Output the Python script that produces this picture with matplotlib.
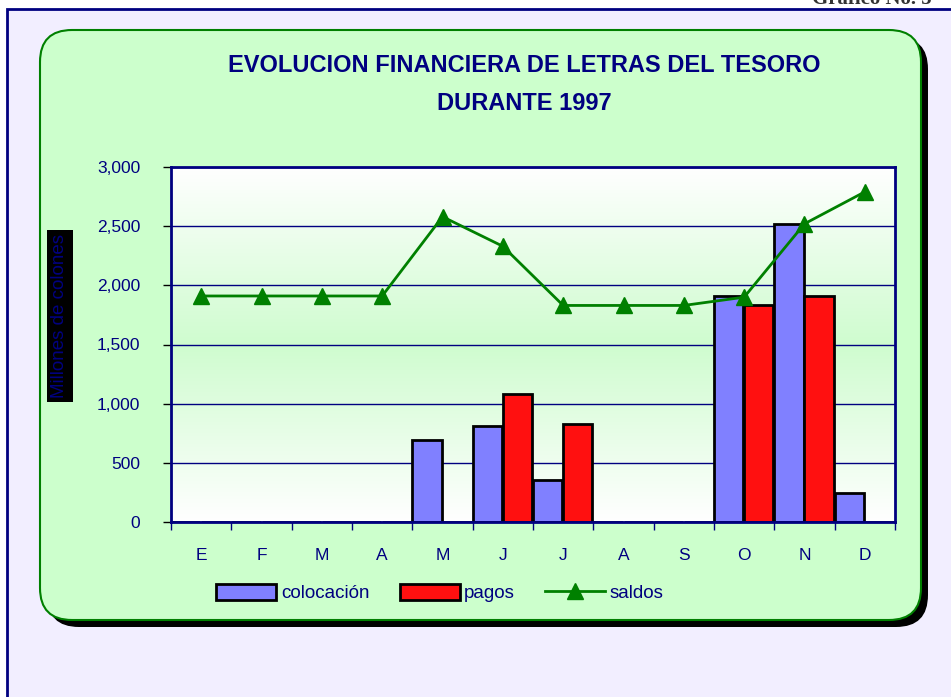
import numpy as np
import matplotlib
matplotlib.use("Agg")
import matplotlib.pyplot as plt
from matplotlib.patches import Rectangle, FancyBboxPatch
from matplotlib.colors import LinearSegmentedColormap

plt.rcParams["font.family"] = ["Liberation Sans", "DejaVu Sans"]

# datos (millones de colones)
meses = ["E", "F", "M", "A", "M", "J", "J", "A", "S", "O", "N", "D"]
colocacion = [0, 0, 0, 0, 690, 810, 355, 0, 0, 1910, 2520, 245]
pagos = [0, 0, 0, 0, 0, 1080, 830, 0, 0, 1830, 1910, 0]
saldos = [1910, 1910, 1910, 1910, 2580, 2330, 1830, 1830, 1830, 1900, 2520, 2790]
y_ticks = [0, 500, 1000, 1500, 2000, 2500, 3000]

NAVY = "#000080"
W, H = 951, 697

fig = plt.figure(figsize=(W / 100, H / 100), dpi=100)
fig.patch.set_facecolor("white")

# fondo: marco lila y recuadro verde redondeado con sombra
bg = fig.add_axes([0, 0, 1, 1], zorder=0)
bg.set_xlim(0, W)
bg.set_ylim(H, 0)
bg.axis("off")
bg.add_patch(Rectangle((7, 9), 980, 720, facecolor="#F2EEFF",
                       edgecolor=NAVY, lw=2))
bg.add_patch(FancyBboxPatch((47, 37), 881, 590,
                            boxstyle="round,pad=0,rounding_size=32",
                            facecolor="black", edgecolor="none"))
bg.add_patch(FancyBboxPatch((40, 30), 881, 590,
                            boxstyle="round,pad=0,rounding_size=32",
                            facecolor="#CCFFCC", edgecolor="#008000", lw=1.5))

# texto cortado arriba a la derecha (como en el original)
fig.text(812 / W, 1 - 4 / H, "Gráfico No. 5", family="Liberation Serif",
         fontsize=15, fontweight="bold", color="#333333", va="baseline")

# titulo
fig.text(524 / W, 1 - 65 / H, "EVOLUCION FINANCIERA DE LETRAS DEL TESORO",
         ha="center", va="center", fontsize=17, fontweight="bold", color=NAVY)
fig.text(524 / W, 1 - 103 / H, "DURANTE 1997",
         ha="center", va="center", fontsize=17, fontweight="bold", color=NAVY)

# area del grafico
ax = fig.add_axes([171 / W, 1 - 522 / H, 724 / W, 355 / H], zorder=1)
x = np.arange(len(meses))

grad = LinearSegmentedColormap.from_list("g", ["#FFFFFF", "#CFFCCF", "#FFFFFF"])
ax.imshow(np.linspace(0, 1, 256).reshape(-1, 1), cmap=grad, aspect="auto",
          extent=[0, 1, 0, 1], transform=ax.transAxes, zorder=0)

ax.set_xlim(-0.5, len(meses) - 0.5)
ax.set_ylim(0, 3000)

for yv in y_ticks[1:]:
    ax.axhline(yv, color=NAVY, lw=1, zorder=1)

ax.bar(x - 0.5, colocacion, width=0.485, align="edge", color="#8080FF",
       edgecolor="black", lw=2, zorder=2, label="colocación")
ax.bar(x, pagos, width=0.485, align="edge", color="#FF1010",
       edgecolor="black", lw=2, zorder=2, label="pagos")
ax.plot(x, saldos, color="#008000", lw=2, marker="^", ms=12,
        zorder=3, label="saldos")

for s in ax.spines.values():
    s.set_color(NAVY)
    s.set_linewidth(2)

ax.set_yticks(y_ticks)
ax.set_yticklabels([f"{v:,}" for v in y_ticks])
ax.tick_params(axis="y", length=6, width=1, color="black", pad=16,
               labelsize=12.5, labelcolor=NAVY)
ax.set_xticks(x)
ax.set_xticklabels(meses)
ax.tick_params(axis="x", length=0, pad=19, labelsize=12.5, labelcolor=NAVY)
ax.set_xticks(np.arange(len(meses) + 1) - 0.5, minor=True)
ax.tick_params(axis="x", which="minor", length=6, width=1, color=NAVY)

fig.text(60 / W, 1 - 316 / H, "Millones de colones", rotation=90,
         ha="center", va="center", fontsize=13.5, color=NAVY,
         bbox=dict(facecolor="black", edgecolor="none", pad=3))

handles, labels = ax.get_legend_handles_labels()
orden = [labels.index(n) for n in ["colocación", "pagos", "saldos"]]
ax.legend([handles[i] for i in orden], [labels[i] for i in orden],
          loc="center", bbox_to_anchor=(440 / W, 1 - 593 / H),
          bbox_transform=fig.transFigure, ncol=3, frameon=False,
          fontsize=13.5, labelcolor=NAVY, handlelength=3.2, handleheight=0.95,
          handletextpad=0.25, columnspacing=1.6)

fig.savefig("out.png", dpi=100)
